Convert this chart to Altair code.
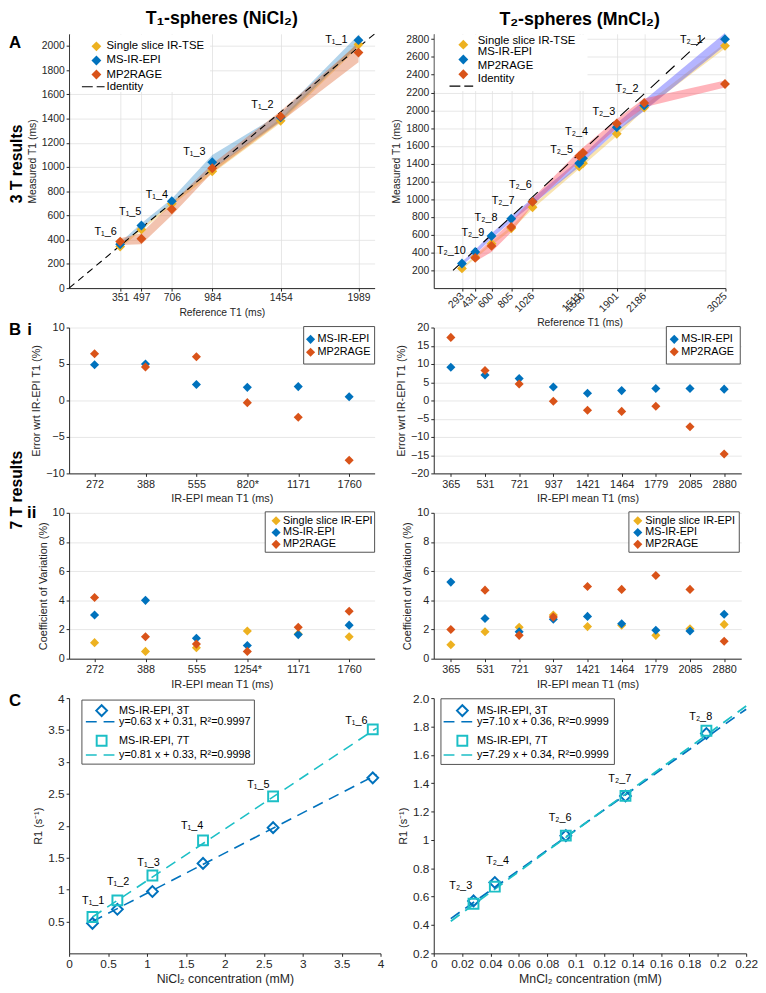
import altair as alt
import pandas as pd

FONT = "Liberation Sans, Arial, Helvetica, sans-serif"
BLUE = "#0072BD"
ORANGE = "#D95319"
YELLOW = "#EDB120"
CYAN = "#1CBFC6"
AXC = "#262626"
GRIDC = "#e1e1e1"

# ---------------- Panel A left: T1 spheres (NiCl2), 3 T ----------------
a1_ref = [351, 497, 706, 984, 1454, 1989]
a1_tse = [343, 485, 697, 965, 1382, 2012]
a1_epi = [362, 517, 718, 1040, 1410, 2048]
a1_mp2 = [384, 408, 651, 990, 1418, 1945]
a1_tse_sd = [12, 12, 14, 18, 18, 22]
a1_epi_sd = [15, 18, 20, 60, 30, 45]
a1_mp2_sd = [28, 45, 50, 35, 45, 80]
a1_names = ["T₁_6", "T₁_5", "T₁_4", "T₁_3", "T₁_2", "T₁_1"]
a1_lab_x = [251, 420, 603, 861, 1329, 1837]
a1_lab_y = [463, 628, 769, 1124, 1512, 2052]
a1_yticks = [0, 200, 400, 600, 800, 1000, 1200, 1400, 1600, 1800, 2000]
a1_identity = [0, 2100]

# ---------------- Panel A right: T2 spheres (MnCl2), 3 T ----------------
a2_ref = [293, 431, 600, 805, 1026, 1511, 1550, 1901, 2186, 3025]
a2_tse = [222, 350, 500, 672, 910, 1368, 1405, 1735, 2031, 2725]
a2_epi = [277, 406, 586, 780, 975, 1405, 1460, 1808, 2053, 2800]
a2_mp2 = [None, 340, 475, 688, 971, 1485, 1522, 1852, 2083, 2296]
a2_tse_sd = [15, 15, 18, 20, 20, 25, 25, 25, 25, 30]
a2_epi_sd = [20, 25, 30, 30, 35, 40, 40, 45, 60, 70]
a2_mp2_sd = [None, 40, 70, 60, 40, 60, 60, 50, 50, 40]
a2_names = ["T₂_10", "T₂_9", "T₂_8", "T₂_7", "T₂_6", "T₂_5", "T₂_4", "T₂_3", "T₂_2", "T₂_1"]
a2_lab_x = [183, 406, 543, 721, 900, 1328, 1483, 1767, 2007, 2676]
a2_lab_y = [413, 622, 791, 982, 1158, 1550, 1753, 1980, 2237, 2790]
a2_yticks = [200, 400, 600, 800, 1000, 1200, 1400, 1600, 1800, 2000, 2200, 2400, 2600, 2800]
a2_identity = [200, 2860]

# ---------------- Panel B i: error wrt IR-EPI (7 T) ----------------
bi1_cats = ["272", "388", "555", "820*", "1171", "1760"]
bi1_epi = [4.9, 5.0, 2.2, 1.8, 1.9, 0.5]
bi1_mp2 = [6.4, 4.6, 6.0, -0.3, -2.3, -8.2]
bi2_cats = ["365", "531", "721", "937", "1421", "1464", "1779", "2085", "2880"]
bi2_epi = [9.1, 7.0, 6.0, 3.7, 2.0, 2.7, 3.3, 3.3, 3.1]
bi2_mp2 = [17.3, 8.2, 4.5, -0.2, -2.7, -3.0, -1.6, -7.2, -14.7]

# ---------------- Panel B ii: coefficient of variation (7 T) ----------------
bii1_cats = ["272", "388", "555", "1254*", "1171", "1760"]
bii1_ss = [1.1, 0.5, 0.75, 1.9, 1.7, 1.5]
bii1_epi = [3.0, 4.0, 1.4, 0.9, 1.65, 2.3]
bii1_mp2 = [4.2, 1.5, 1.0, 0.5, 2.15, 3.25]
bii2_cats = bi2_cats
bii2_ss = [0.95, 1.85, 2.15, 3.0, 2.2, 2.3, 1.6, 2.05, 2.35]
bii2_epi = [5.25, 2.75, 1.85, 2.7, 2.9, 2.4, 1.95, 1.9, 3.05]
bii2_mp2 = [2.0, 4.7, 1.6, 2.85, 4.95, 4.75, 5.7, 4.75, 1.2]

# ---------------- Panel C: R1 vs concentration ----------------
c1_conc = [0.30, 0.62, 1.07, 1.72, 2.62, 3.90]
c1_r1_3t = [0.47, 0.69, 0.97, 1.41, 1.97, 2.75]
c1_r1_7t = [0.57, 0.83, 1.22, 1.77, 2.46, 3.51]
c1_fit_x = [0.30, 3.95]
c1_fit_3t = [0.50, 2.80]
c1_fit_7t = [0.57, 3.53]
c1_names = ["T₁_1", "T₁_2", "T₁_3", "T₁_4", "T₁_5", "T₁_6"]
c1_lab_x = [0.31, 0.63, 1.02, 1.58, 2.43, 3.69]
c1_lab_y = [0.82, 1.11, 1.41, 1.99, 2.64, 3.64]
c1_xticks = [0, 0.5, 1, 1.5, 2, 2.5, 3, 3.5, 4]
c1_yticks = [0.5, 1, 1.5, 2, 2.5, 3, 3.5, 4]
c1_legend = ["MS-IR-EPI, 3T", "y=0.63 x + 0.31, R²=0.9997", "MS-IR-EPI, 7T", "y=0.81 x + 0.33, R²=0.9998"]

c2_conc = [0.028, 0.043, 0.093, 0.135, 0.192]
c2_r1_3t = [0.57, 0.70, 1.03, 1.31, 1.75]
c2_r1_7t = [0.55, 0.67, 1.03, 1.31, 1.77]
c2_fit_x = [0.012, 0.22]
c2_fit_3t = [0.445, 1.922]
c2_fit_7t = [0.427, 1.944]
c2_names = ["T₂_3", "T₂_4", "T₂_6", "T₂_7", "T₂_8"]
c2_lab_x = [0.019, 0.045, 0.089, 0.131, 0.188]
c2_lab_y = [0.675, 0.853, 1.152, 1.431, 1.867]
c2_xticks = [0, 0.02, 0.04, 0.06, 0.08, 0.1, 0.12, 0.14, 0.16, 0.18, 0.2, 0.22]
c2_yticks = [0.2, 0.4, 0.6, 0.8, 1, 1.2, 1.4, 1.6, 1.8, 2.0]
c2_legend = ["MS-IR-EPI, 3T", "y=7.10 x + 0.36, R²=0.9999", "MS-IR-EPI, 7T", "y=7.29 x + 0.34, R²=0.9999"]

methods_3 = ["Single slice IR-TSE", "MS-IR-EPI", "MP2RAGE", "Identity"]
methods_b1 = ["MS-IR-EPI", "MP2RAGE"]
methods_b2 = ["Single slice IR-EPI", "MS-IR-EPI", "MP2RAGE"]


# ---------------- helpers ----------------
def one():
    return pd.DataFrame({"k": [0]})


def txt(s, px, py, size=11, weight="normal", align="left", angle=None):
    kw = dict(align=align, baseline="middle", fontSize=size, fontWeight=weight,
              font=FONT, color="black")
    if angle is not None:
        kw["angle"] = angle
    return alt.Chart(pd.DataFrame({"t": [s]})).mark_text(**kw).encode(
        x=alt.value(px), y=alt.value(py), text="t:N")


def sym(px, py, color, shape="diamond", filled=True, size=90, sw=2):
    return alt.Chart(one()).mark_point(shape=shape, filled=filled, size=size, color=color,
                                       opacity=1, strokeWidth=sw).encode(
        x=alt.value(px), y=alt.value(py))


def dash(x0, x1, py, color, pattern, sw=1.5):
    return alt.Chart(one()).mark_rule(color=color, strokeDash=pattern, strokeWidth=sw).encode(
        x=alt.value(x0), x2=alt.value(x1), y=alt.value(py))


def box(x0, x1, y0, y1, stroke=None):
    kw = dict(fill="white")
    if stroke:
        kw.update(stroke=stroke, strokeWidth=1)
    return alt.Chart(one()).mark_rect(**kw).encode(
        x=alt.value(x0), x2=alt.value(x1), y=alt.value(y0), y2=alt.value(y1))


def qx(domain, values, title, grid, fmt=None, **ax):
    def f(field):
        kw = dict(values=values, title=title, grid=grid, labelFlush=False, labelOverlap=False)
        if fmt:
            kw["format"] = fmt
        kw.update(ax)
        return alt.X(f"{field}:Q", scale=alt.Scale(domain=domain, nice=False, zero=False),
                     axis=alt.Axis(**kw))
    return f


def qy(domain, values, title, grid, fmt=None, **ax):
    def f(field):
        kw = dict(values=values, title=title, grid=grid, labelFlush=False, labelOverlap=False)
        if fmt:
            kw["format"] = fmt
        kw.update(ax)
        return alt.Y(f"{field}:Q", scale=alt.Scale(domain=domain, nice=False, zero=False),
                     axis=alt.Axis(**kw))
    return f


def nx(cats, title):
    def f(field):
        return alt.X(f"{field}:N", sort=cats, scale=alt.Scale(domain=cats),
                     axis=alt.Axis(title=title, labelAngle=0, grid=False, labelOverlap=False))
    return f


def band(xs, mean, sd, color, op, X, Y):
    rows = [(x, m - s, m + s) for x, m, s in zip(xs, mean, sd) if m is not None]
    d = pd.DataFrame(rows, columns=["x", "lo", "hi"])
    return alt.Chart(d).mark_area(color=color, opacity=op).encode(
        x=X("x"), y=Y("lo"), y2="hi:Q")


def pts(xs, ys, color, X, Y, shape="diamond", filled=True, size=100, sw=1):
    rows = [(x, y) for x, y in zip(xs, ys) if y is not None]
    d = pd.DataFrame(rows, columns=["x", "y"])
    return alt.Chart(d).mark_point(shape=shape, filled=filled, size=size, color=color,
                                   opacity=1, strokeWidth=sw).encode(x=X("x"), y=Y("y"))


def line(xs, ys, color, pattern, sw, X, Y, clip=False):
    d = pd.DataFrame({"x": xs, "y": ys})
    return alt.Chart(d).mark_line(color=color, strokeDash=pattern, strokeWidth=sw,
                                  clip=clip).encode(x=X("x"), y=Y("y"))


def labels(xs, ys, names, X, Y, size=11):
    d = pd.DataFrame({"x": xs, "y": ys, "t": names})
    return alt.Chart(d).mark_text(font=FONT, fontSize=size, color="black").encode(
        x=X("x"), y=Y("y"), text="t:N")


def title(s):
    return alt.TitleParams(s, font=FONT, fontSize=18, fontWeight="bold", color="black",
                           anchor="middle", offset=4)


LX = -61  # left edge of the panel letters, relative to the plot
RX = -53  # centre of the rotated row labels

# ---------------- Panel A left ----------------
XA1 = qx([0, 2100], a1_ref, "Reference T1 (ms)", True, "d", labelFontSize=10.5, titleFontSize=10.5)
YA1 = qy([0, 2100], a1_yticks, "Measured T1 (ms)", True, "d", labelFontSize=10.5, titleFontSize=10.5)
pA1 = alt.layer(
    band(a1_ref, a1_tse, a1_tse_sd, YELLOW, 0.35, XA1, YA1),
    band(a1_ref, a1_epi, a1_epi_sd, BLUE, 0.3, XA1, YA1),
    band(a1_ref, a1_mp2, a1_mp2_sd, ORANGE, 0.35, XA1, YA1),
    line(a1_identity, a1_identity, "black", [7, 5], 1.1, XA1, YA1),
    pts(a1_ref, a1_tse, YELLOW, XA1, YA1),
    pts(a1_ref, a1_epi, BLUE, XA1, YA1),
    pts(a1_ref, a1_mp2, ORANGE, XA1, YA1),
    labels(a1_lab_x, a1_lab_y, a1_names, XA1, YA1),
    box(1, 143, 1, 59),
    sym(27.7, 12.7, YELLOW, size=100), sym(27.7, 27, BLUE, size=100), sym(27.7, 41.3, ORANGE, size=100),
    dash(13, 36, 53.7, "black", [11, 4], 1.2),
    txt(methods_3[0], 38, 12.7, 11.5), txt(methods_3[1], 38, 27, 11.5),
    txt(methods_3[2], 38, 41.3, 11.5), txt(methods_3[3], 38, 53.7, 11.5),
    txt("A", LX, 9, 17, "bold"),
    txt("3 T results", RX, 132, 16, "bold", "center", 270),
).properties(width=310, height=258, title=title("T₁-spheres (NiCl₂)"))

# ---------------- Panel A right ----------------
XA2 = qx([0, 3030], a2_ref, "Reference T1 (ms)", True, "d", labelFontSize=10.5, titleFontSize=10.5,
         labelAngle=315, labelAlign="right", labelBaseline="middle", labelPadding=3)
YA2 = qy([0, 2860], a2_yticks, "Measured T1 (ms)", True, "d", labelFontSize=10.5, titleFontSize=10.5)
pA2 = alt.layer(
    band(a2_ref, a2_tse, a2_tse_sd, YELLOW, 0.35, XA2, YA2),
    band(a2_ref, a2_epi, a2_epi_sd, "#5a5aff", 0.45, XA2, YA2),
    band(a2_ref, a2_mp2, a2_mp2_sd, "#ff4d5e", 0.42, XA2, YA2),
    line(a2_identity, a2_identity, "black", [12, 9], 1.1, XA2, YA2, clip=True),
    pts(a2_ref, a2_tse, YELLOW, XA2, YA2),
    pts(a2_ref, a2_epi, BLUE, XA2, YA2),
    pts(a2_ref, a2_mp2, ORANGE, XA2, YA2),
    labels(a2_lab_x, a2_lab_y, a2_names, XA2, YA2),
    box(1, 156, 1, 58),
    sym(30, 11, YELLOW, size=100), sym(30, 26, BLUE, size=100), sym(30, 41, ORANGE, size=100),
    dash(16, 40, 53, "black", [11, 4], 1.2),
    txt(methods_3[0], 44.7, 7, 11.5), txt(methods_3[1], 44.7, 18.5, 11.5),
    txt(methods_3[2], 44.7, 33, 11.5), txt(methods_3[3], 44.7, 46, 11.5),
).properties(width=296, height=258, title=title("T₂-spheres (MnCl₂)"))

# ---------------- Panel B i ----------------
XB1 = nx(bi1_cats, "IR-EPI mean T1 (ms)")
YB1 = qy([-10, 10], [-10, -5, 0, 5, 10], "Error wrt IR-EPI T1 (%)", True)
pBi1 = alt.layer(
    pts(bi1_cats, bi1_epi, BLUE, XB1, YB1, size=85),
    pts(bi1_cats, bi1_mp2, ORANGE, XB1, YB1, size=85),
    box(238, 310, -1, 37, "#505050"),
    sym(245, 12, BLUE, size=85), sym(245, 25, ORANGE, size=85),
    txt(methods_b1[0], 252, 12), txt(methods_b1[1], 252, 25),
    txt("B", LX, 3, 17, "bold"),
    txt("i", -40, 3, 17, "bold", "center"),
    txt("7 T results", RX, 165, 16, "bold", "center", 270),
).properties(width=310, height=148)

XB2 = nx(bi2_cats, "IR-EPI mean T1 (ms)")
YB2 = qy([-20, 20], [-20, -15, -10, -5, 0, 5, 10, 15, 20], "Error wrt IR-EPI T1 (%)", True)
pBi2 = alt.layer(
    pts(bi2_cats, bi2_epi, BLUE, XB2, YB2, size=85),
    pts(bi2_cats, bi2_mp2, ORANGE, XB2, YB2, size=85),
    box(236, 311, -1, 37, "#505050"),
    sym(244, 12, BLUE, size=85), sym(244, 24.5, ORANGE, size=85),
    txt(methods_b1[0], 251, 12), txt(methods_b1[1], 251, 24.5),
).properties(width=312, height=148)

# ---------------- Panel B ii ----------------
XC1 = nx(bii1_cats, "IR-EPI mean T1 (ms)")
YC1 = qy([0, 10], [0, 2, 4, 6, 8, 10], "Coefficient of Variation (%)", True)
pBii1 = alt.layer(
    pts(bii1_cats, bii1_ss, YELLOW, XC1, YC1, size=85),
    pts(bii1_cats, bii1_epi, BLUE, XC1, YC1, size=85),
    pts(bii1_cats, bii1_mp2, ORANGE, XC1, YC1, size=85),
    box(199, 310, -1, 40, "#505050"),
    sym(210, 8, YELLOW, size=85), sym(210, 20, BLUE, size=85), sym(210, 32, ORANGE, size=85),
    txt(methods_b2[0], 217, 8), txt(methods_b2[1], 217, 20), txt(methods_b2[2], 217, 32),
    txt("ii", -38, 0, 17, "bold", "center"),
).properties(width=310, height=148)

XC2 = nx(bii2_cats, "IR-EPI mean T1 (ms)")
YC2 = qy([0, 10], [0, 2, 4, 6, 8, 10], "Coefficient of Variation (%)", True)
pBii2 = alt.layer(
    pts(bii2_cats, bii2_ss, YELLOW, XC2, YC2, size=85),
    pts(bii2_cats, bii2_epi, BLUE, XC2, YC2, size=85),
    pts(bii2_cats, bii2_mp2, ORANGE, XC2, YC2, size=85),
    box(198, 310, -1, 40, "#505050"),
    sym(207, 8, YELLOW, size=85), sym(207, 20, BLUE, size=85), sym(207, 32, ORANGE, size=85),
    txt(methods_b2[0], 214.7, 8), txt(methods_b2[1], 214.7, 20), txt(methods_b2[2], 214.7, 32),
).properties(width=312, height=148)

# ---------------- Panel C ----------------
XD1 = qx([0, 4], c1_xticks, "NiCl₂ concentration (mM)", False, "~g", labelFontSize=12, titleFontSize=12.5)
YD1 = qy([0, 4], c1_yticks, "R1 (s⁻¹)", False, "~g", labelFontSize=12, titleFontSize=11)
pC1 = alt.layer(
    line(c1_fit_x, c1_fit_3t, BLUE, [11, 7], 1.6, XD1, YD1),
    line(c1_fit_x, c1_fit_7t, CYAN, [11, 7], 1.6, XD1, YD1),
    pts(c1_conc, c1_r1_3t, BLUE, XD1, YD1, shape="diamond", filled=False, size=120, sw=2),
    pts(c1_conc, c1_r1_7t, CYAN, XD1, YD1, shape="square", filled=False, size=100, sw=2),
    labels(c1_lab_x, c1_lab_y, c1_names, XD1, YD1),
    box(13, 188, 2, 67, "#505050"),
    sym(33, 12.7, BLUE, shape="diamond", filled=False, size=120, sw=2),
    dash(17, 48, 24, BLUE, [11, 7], 1.6),
    sym(33, 43.3, CYAN, shape="square", filled=False, size=100, sw=2),
    dash(17, 48, 57.7, CYAN, [11, 7], 1.6),
    txt(c1_legend[0], 50.7, 12.7), txt(c1_legend[1], 50.7, 24),
    txt(c1_legend[2], 50.7, 43.3), txt(c1_legend[3], 50.7, 57.7),
    txt("C", LX, 3, 17, "bold"),
).properties(width=316, height=259)

XD2 = qx([0, 0.22], c2_xticks, "MnCl₂ concentration (mM)", False, "~g", labelFontSize=12, titleFontSize=12.5)
YD2 = qy([0.2, 2.0], c2_yticks, "R1 (s⁻¹)", False, labelFontSize=12, titleFontSize=11,
         labelExpr="datum.value == 2 ? '2.0' : format(datum.value, '~g')")
pC2 = alt.layer(
    line(c2_fit_x, c2_fit_3t, BLUE, [11, 7], 1.8, XD2, YD2),
    line(c2_fit_x, c2_fit_7t, CYAN, [11, 7], 1.8, XD2, YD2),
    pts(c2_conc, c2_r1_3t, BLUE, XD2, YD2, shape="diamond", filled=False, size=120, sw=2),
    pts(c2_conc, c2_r1_7t, CYAN, XD2, YD2, shape="square", filled=False, size=100, sw=2),
    labels(c2_lab_x, c2_lab_y, c2_names, XD2, YD2),
    box(7.3, 183.3, 0.7, 67.3, "#505050"),
    sym(29, 12.7, BLUE, shape="diamond", filled=False, size=120, sw=2),
    dash(10, 42, 24, BLUE, [11, 7], 1.6),
    sym(29, 43.3, CYAN, shape="square", filled=False, size=100, sw=2),
    dash(10, 42, 57.7, CYAN, [11, 7], 1.6),
    txt(c2_legend[0], 44, 12.7), txt(c2_legend[1], 44, 24),
    txt(c2_legend[2], 44, 43.3), txt(c2_legend[3], 44, 57.7),
).properties(width=317, height=259)

chart = alt.concat(
    pA1, pA2, pBi1, pBi2, pBii1, pBii2, pC1, pC2,
    columns=2, spacing={"row": 40, "column": 54}, align="each", bounds="flush",
    padding={"left": 1, "top": -6, "right": 0, "bottom": 0},
).configure_view(stroke=None).configure_axis(
    labelFont=FONT, titleFont=FONT, labelColor=AXC, titleColor=AXC,
    domainColor=AXC, tickColor=AXC, gridColor=GRIDC, gridWidth=0.8,
    titleFontWeight="normal", labelFontSize=11, titleFontSize=11,
    tickSize=3, domainWidth=1, titlePadding=4,
)

chart.save("out.html", embed_options={"renderer": "svg", "actions": False})
